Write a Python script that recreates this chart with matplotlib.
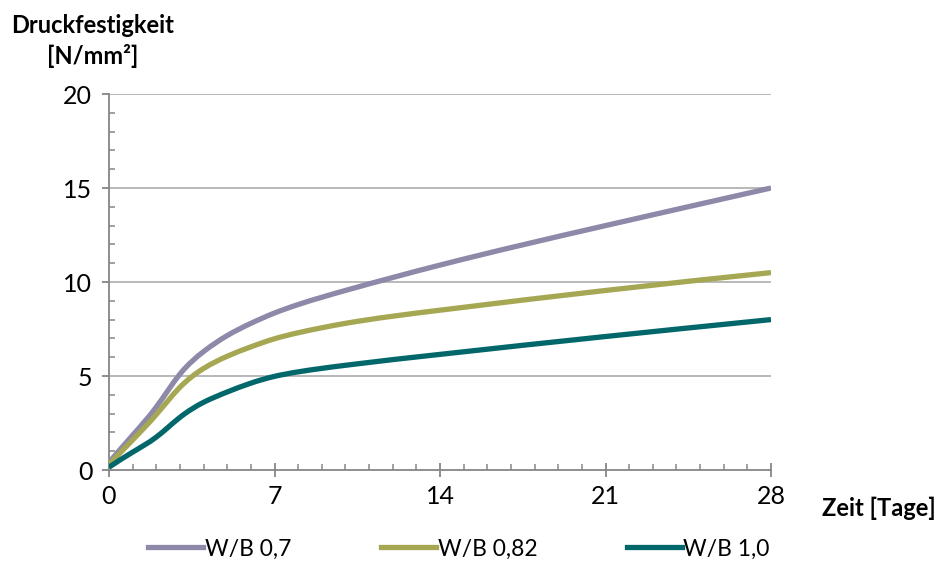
import numpy as np
import matplotlib
matplotlib.use("Agg")
import matplotlib.pyplot as plt
from matplotlib.path import Path
from matplotlib.patches import PathPatch
from matplotlib.lines import Line2D
from matplotlib.ticker import MultipleLocator

plt.rcParams['font.family'] = ['Lato', 'DejaVu Sans']

# Druckfestigkeit [N/mm²] nach Alter [Tage]
tage = [0, 1, 2, 3, 4, 5, 6, 7, 8, 10, 14, 21, 28]
wb_070 = [0.4, 1.85, 3.35, 5.1, 6.3, 7.15, 7.8, 8.35, 8.8, 9.55, 10.9, 13.0, 15.0]
wb_082 = [0.3, 1.6, 2.95, 4.4, 5.4, 6.05, 6.55, 6.98, 7.3, 7.8, 8.5, 9.55, 10.5]
wb_100 = [0.15, 0.95, 1.75, 2.8, 3.6, 4.15, 4.62, 4.98, 5.22, 5.57, 6.15, 7.1, 8.0]

serien = ["W/B 0,7", "W/B 0,82", "W/B 1,0"]
farben = ["#8E88A9", "#A6A753", "#02676A"]
x_ticks = [0, 7, 14, 21, 28]
y_ticks = [0, 5, 10, 15, 20]


def glatte_kurve(xs, ys):
    """Natural cubic spline through the points, as a Bezier path."""
    xs = np.asarray(xs, float)
    ys = np.asarray(ys, float)
    n = len(xs) - 1
    h = np.diff(xs)
    d = np.diff(ys) / h
    A = np.zeros((n + 1, n + 1))
    b = np.zeros(n + 1)
    A[0, 0] = A[n, n] = 1.0
    for i in range(1, n):
        A[i, i - 1] = h[i - 1]
        A[i, i] = 2 * (h[i - 1] + h[i])
        A[i, i + 1] = h[i]
        b[i] = 6 * (d[i] - d[i - 1])
    M = np.linalg.solve(A, b)
    m = np.empty(n + 1)
    m[:n] = d - h * (2 * M[:n] + M[1:]) / 6
    m[n] = d[-1] + h[-1] * (M[n - 1] + 2 * M[n]) / 6
    verts = [(xs[0], ys[0])]
    codes = [Path.MOVETO]
    for i in range(n):
        verts += [(xs[i] + h[i] / 3, ys[i] + m[i] * h[i] / 3),
                  (xs[i + 1] - h[i] / 3, ys[i + 1] - m[i + 1] * h[i] / 3),
                  (xs[i + 1], ys[i + 1])]
        codes += [Path.CURVE4] * 3
    return Path(verts, codes)


fig = plt.figure(figsize=(9.39, 5.62), dpi=100)
ax = fig.add_axes([109 / 939, 1 - 470 / 562, 662 / 939, 376 / 562])

ax.set_xlim(0, 28)
ax.set_ylim(0, 20)

lw = 3.8
for werte, farbe in zip([wb_070, wb_082, wb_100], farben):
    ax.add_patch(PathPatch(glatte_kurve(tage, werte), fill=False,
                           edgecolor=farbe, lw=lw, capstyle='butt',
                           joinstyle='round', zorder=3))

grid_col = "#A6A6A6"
axis_col = "#868686"
for yv in y_ticks[1:]:
    ax.axhline(yv, color=grid_col, lw=1.1, zorder=1)

for s in ['top', 'right']:
    ax.spines[s].set_visible(False)
for s in ['left', 'bottom']:
    ax.spines[s].set_color(axis_col)
    ax.spines[s].set_linewidth(1.3)

ax.set_xticks(x_ticks)
ax.set_yticks(y_ticks)
ax.xaxis.set_minor_locator(MultipleLocator(1))
ax.yaxis.set_minor_locator(MultipleLocator(1))

ax.tick_params(axis='x', which='major', direction='inout', length=10,
               width=1.3, color=axis_col, labelsize=18, pad=6,
               labelcolor='black')
ax.tick_params(axis='x', which='minor', direction='in', length=4.3,
               width=1.1, color=axis_col)
ax.tick_params(axis='y', which='major', direction='out', length=5,
               width=1.3, color=axis_col, labelsize=18, pad=7,
               labelcolor='black')
ax.tick_params(axis='y', which='minor', direction='in', length=4.3,
               width=1.1, color=axis_col)

fig.text(93 / 939, 1 - 41 / 562, "Druckfestigkeit\n[N/mm²]",
         ha='center', va='center', fontsize=17, fontweight='bold',
         linespacing=1.35)
fig.text(879 / 939, 1 - 508 / 562, "Zeit [Tage]", ha='center',
         va='center', fontsize=17, fontweight='bold')

handles = [Line2D([], [], color=c, lw=lw) for c in farben]
fig.legend(handles, serien, loc='center', bbox_to_anchor=(459 / 939, 1 - 549 / 562),
           ncol=3, frameon=False, fontsize=16.5, handlelength=2.4,
           handletextpad=0.08, columnspacing=3.9)

fig.savefig("out.png", dpi=100)
